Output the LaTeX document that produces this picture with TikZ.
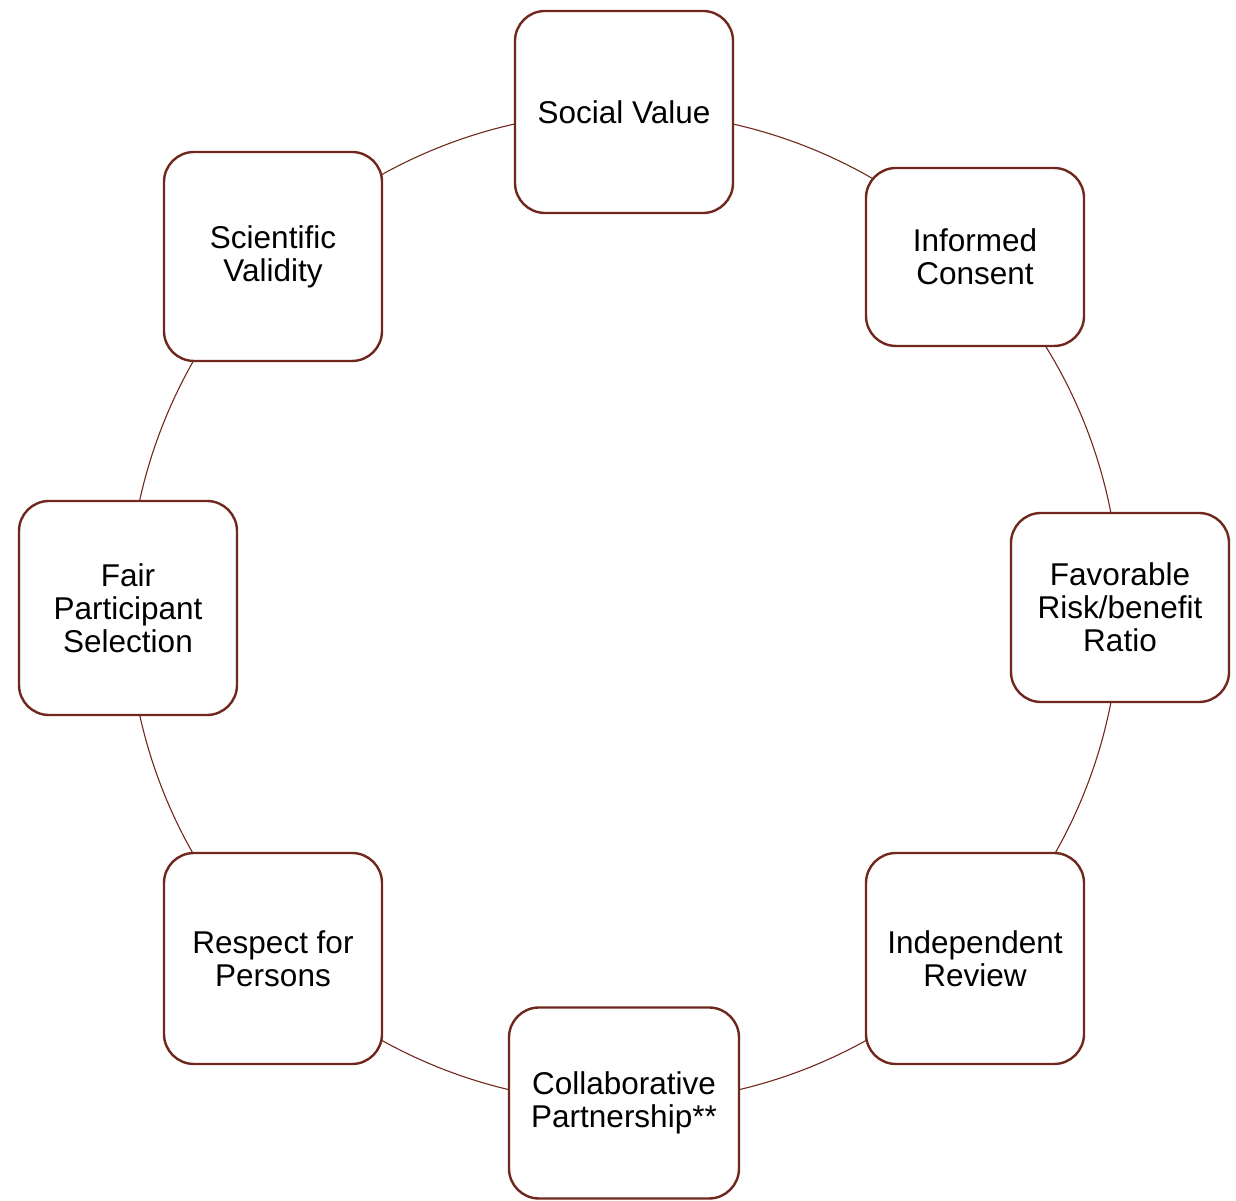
\documentclass[tikz,border=0pt]{standalone}
\usepackage{fontspec}
\setmainfont{Liberation Sans}
\usetikzlibrary{backgrounds}
\definecolor{edge}{RGB}{112,40,30}
\begin{document}
\begin{tikzpicture}[x=1pt,y=1pt,
  box/.style={draw=edge, line width=2.4pt, fill=white, rounded corners=30pt,
    inner sep=0pt, outer sep=0pt, align=center,
    font=\fontsize{31.5}{33}\selectfont, text=black},
  link/.style={draw=edge, line width=1.1pt, bend left=22.5, looseness=0.885}]
\useasboundingbox (0,0) rectangle (1236,1201);
\node[box, minimum width=218pt, minimum height=202pt] (sv) at (624,1089) {Social Value};
\node[box, minimum width=218pt, minimum height=178pt] (ic) at (975,944) {Informed\\Consent};
\node[box, minimum width=218pt, minimum height=189pt] (fr) at (1120,593.5) {Favorable\\Risk/benefit\\Ratio};
\node[box, minimum width=218pt, minimum height=211pt] (ir) at (975,242.5) {Independent\\Review};
\node[box, minimum width=230pt, minimum height=191pt] (cp) at (624,98) {Collaborative\\Partnership**};
\node[box, minimum width=218pt, minimum height=211pt] (rp) at (273,242.5) {Respect for\\Persons};
\node[box, minimum width=218pt, minimum height=214pt] (fp) at (128,593) {Fair\\Participant\\Selection};
\node[box, minimum width=218pt, minimum height=209pt] (sc) at (273,944.5) {Scientific\\Validity};
\begin{scope}[on background layer]
\draw[link] (sv.center) to (ic.center);
\draw[link] (ic.center) to (fr.center);
\draw[link] (fr.center) to (ir.center);
\draw[link] (ir.center) to (cp.center);
\draw[link] (cp.center) to (rp.center);
\draw[link] (rp.center) to (fp.center);
\draw[link] (fp.center) to (sc.center);
\draw[link] (sc.center) to (sv.center);
\end{scope}
\end{tikzpicture}
\end{document}
